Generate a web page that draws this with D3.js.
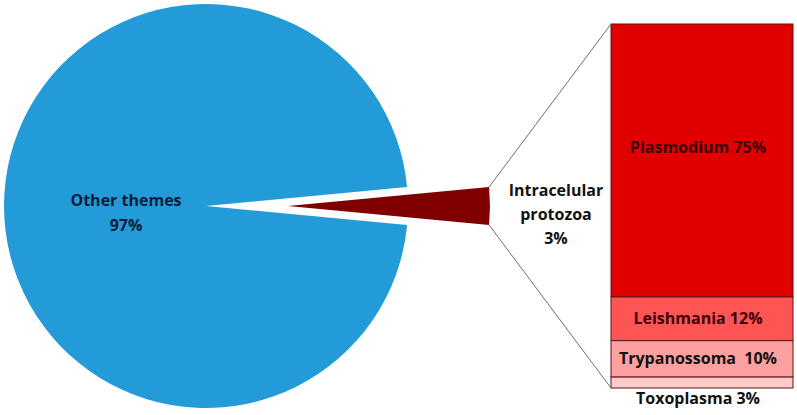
<!DOCTYPE html>
<html lang="en">
  <head>
    <meta charset="UTF-8" />
    <title>Intracellular protozoa themes</title>
    <style>
      body { margin: 0; background: #fff; }
      text { font-family: "Open Sans", Lato, sans-serif; font-weight: bold; }
    </style>
  </head>
  <body>
    <div id="chart"></div>

    <script src="https://d3js.org/d3.v7.min.js"></script>
    <script>
      // pie data
      const pieLabels = ["Intracelular protozoa", "Other themes"];
      const pieValues = [3, 97];

      // breakdown of the small slice
      const barLabels = ["Plasmodium", "Leishmania", "Trypanossoma", "Toxoplasma"];
      const barValues = [75, 12, 10, 3];

      const w = 797;
      const h = 415;

      const svg = d3
        .select("#chart")
        .append("svg")
        .attr("width", w)
        .attr("height", h);

      // pie layout, small slice centred pointing right
      const cx = 206, cy = 206, r = 202, explode = 82;
      const total = d3.sum(pieValues);
      const start = Math.PI / 2 - (pieValues[0] / total) * Math.PI;

      const pie = d3
        .pie()
        .sort(null)
        .value((d) => d)
        .startAngle(start)
        .endAngle(start + 2 * Math.PI);

      const arcs = pie(pieValues);
      const arc = d3.arc().innerRadius(0).outerRadius(r);
      const pieColors = ["#800000", "#229bd8"];

      svg
        .append("g")
        .selectAll("path")
        .data(arcs)
        .enter()
        .append("path")
        .attr("d", arc)
        .attr("fill", (d, i) => pieColors[i])
        .attr("transform", (d, i) => {
          if (i !== 0) return `translate(${cx},${cy})`;
          const mid = (d.startAngle + d.endAngle) / 2;
          const dx = Math.sin(mid) * explode;
          const dy = -Math.cos(mid) * explode;
          return `translate(${cx + dx},${cy + dy})`;
        });

      // stacked bar
      const barX = 611, barW = 182;
      const y = d3.scaleLinear().domain([0, d3.sum(barValues)]).range([24, 388]);
      const barColors = ["#e10000", "#ff5454", "#ffa0a0", "#ffcaca"];
      const stack = d3.cumsum(barValues);

      const segs = barValues.map((v, i) => ({
        label: barLabels[i],
        value: v,
        y0: stack[i] - v,
        y1: stack[i],
      }));

      svg
        .append("g")
        .selectAll("rect")
        .data(segs)
        .enter()
        .append("rect")
        .attr("x", barX)
        .attr("y", (d) => y(d.y0))
        .attr("width", barW)
        .attr("height", (d) => y(d.y1) - y(d.y0))
        .attr("fill", (d, i) => barColors[i])
        .attr("stroke", "#5e1515")
        .attr("stroke-width", 1);

      // connector lines from the exploded slice to the bar
      const small = arcs[0];
      const sx = cx + explode;
      const topPt = [sx + Math.sin(small.startAngle) * r, cy - Math.cos(small.startAngle) * r];
      const botPt = [sx + Math.sin(small.endAngle) * r, cy - Math.cos(small.endAngle) * r];

      svg
        .append("line")
        .attr("x1", topPt[0]).attr("y1", topPt[1])
        .attr("x2", barX).attr("y2", y(0))
        .attr("stroke", "#6e6e6e");
      svg
        .append("line")
        .attr("x1", botPt[0]).attr("y1", botPt[1])
        .attr("x2", barX).attr("y2", y(d3.sum(barValues)))
        .attr("stroke", "#6e6e6e");

      // pie labels
      const other = svg
        .append("text")
        .attr("x", 126)
        .attr("y", 206)
        .attr("text-anchor", "middle")
        .attr("fill", "#0c1c38")
        .style("font-size", "16px");
      other.append("tspan").attr("x", 126).text(pieLabels[1]);
      other.append("tspan").attr("x", 126).attr("dy", 25).text(pieValues[1] + "%");

      const intra = svg
        .append("text")
        .attr("x", 556)
        .attr("y", 196)
        .attr("text-anchor", "middle")
        .attr("fill", "#111")
        .style("font-size", "16px");
      pieLabels[0].split(" ").concat(pieValues[0] + "%").forEach((t, i) => {
        intra.append("tspan").attr("x", 556).attr("dy", i ? 24 : 0).text(t);
      });

      // bar labels
      svg
        .append("g")
        .selectAll("text")
        .data(segs)
        .enter()
        .append("text")
        .attr("x", 698)
        .attr("y", (d, i) => {
          if (i === 0) return y(d.y0) + (y(d.y1) - y(d.y0)) * 0.45 + 6;
          if (i === segs.length - 1) return y(d.y1) + 16;
          return (y(d.y0) + y(d.y1)) / 2 + 5;
        })
        .attr("text-anchor", "middle")
        .attr("fill", (d, i) => (i < 2 ? "#3d0000" : "#111"))
        .style("font-size", "16px")
        .style("white-space", "pre")
        .text((d, i) => d.label + (i === 2 ? "\u00a0 " : " ") + d.value + "%");
    </script>
  </body>
</html>
